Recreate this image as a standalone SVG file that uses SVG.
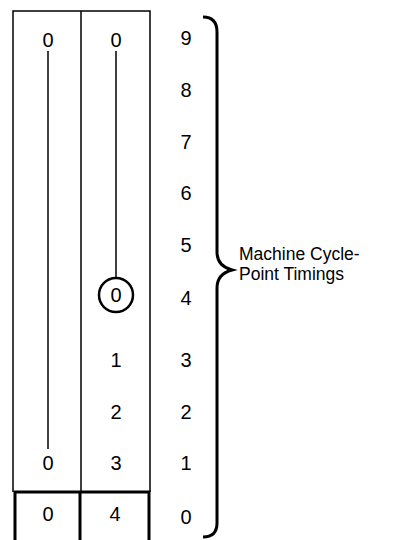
<svg xmlns="http://www.w3.org/2000/svg" width="405" height="540" viewBox="0 0 405 540">
<style>
text{font-family:"Liberation Sans","DejaVu Sans",sans-serif;font-size:20px;fill:#000;text-anchor:middle}
.lbl{font-size:17.5px;text-anchor:start}
.thin{stroke:#000;stroke-width:1.5;fill:none}
.thick{stroke:#000;stroke-width:3;fill:none}
</style>
<rect width="405" height="540" fill="#fff"/>
<g id="columns">
<path class="thin" d="M13,492 L13,11 L150,11 L150,492 M81,11 L81,492"/>
<path class="thick" d="M15,540 L15,492 L149,492 L149,540 M80,492 L80,540"/>
</g>
<g id="connectors">
<line class="thin" x1="48" y1="51" x2="48" y2="449"/>
<line class="thin" x1="116" y1="51" x2="116" y2="278"/>
</g>
<g id="node-left-top"><text x="48" y="47">0</text></g>
<g id="node-right-top"><text x="116" y="47">0</text></g>
<g id="node-circle">
<circle cx="116" cy="295" r="17" fill="none" stroke="#000" stroke-width="2.5"/>
<text x="116" y="302">0</text>
</g>
<g id="right-column">
<text x="116" y="367">1</text>
<text x="116" y="419">2</text>
<text x="116" y="470">3</text>
</g>
<g id="left-bottom"><text x="48" y="470">0</text></g>
<g id="bottom-row">
<text x="48" y="521">0</text>
<text x="115" y="521">4</text>
</g>
<g id="timings">
<text x="186" y="45">9</text>
<text x="186" y="97">8</text>
<text x="186" y="149">7</text>
<text x="186" y="200">6</text>
<text x="186" y="252">5</text>
<text x="186" y="305">4</text>
<text x="186" y="367">3</text>
<text x="186" y="419">2</text>
<text x="186" y="470">1</text>
<text x="186" y="524">0</text>
</g>
<g id="brace">
<path class="thick" stroke-width="3.5" d="M203,17 Q217,17 217,32 L217,252 Q217,266 232,270 Q217,274 217,288 L217,523 Q217,537 203,537"/>
</g>
<g id="label">
<text class="lbl" x="239" y="260">Machine Cycle-</text>
<text class="lbl" x="239" y="280">Point Timings</text>
</g>
</svg>
